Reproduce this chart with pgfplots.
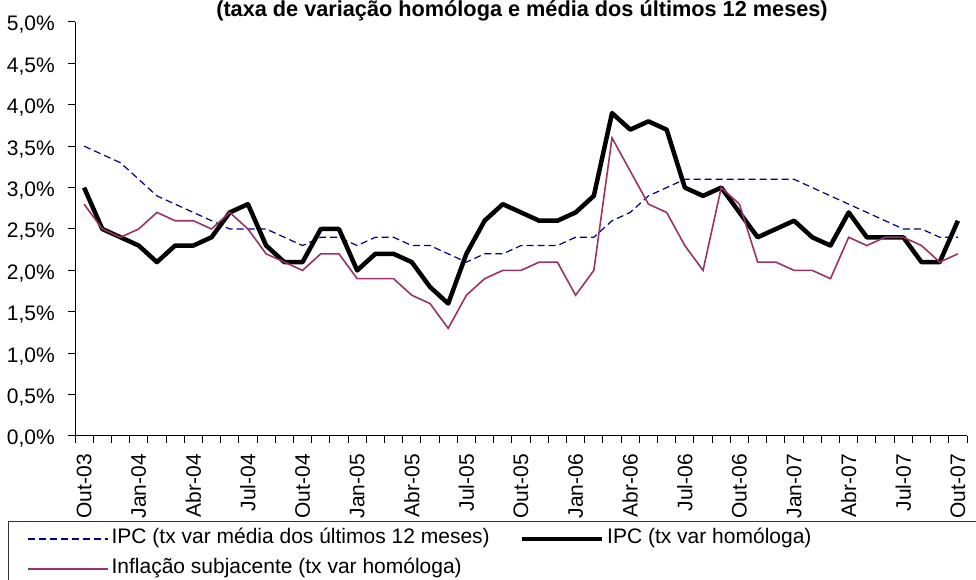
\documentclass[border=0pt]{standalone}
\usepackage{fontspec}
\setmainfont{Liberation Sans}
\usepackage{pgfplots}
\pgfplotsset{compat=1.18}
\definecolor{navyblue}{RGB}{0,0,128}
\definecolor{plum}{RGB}{153,51,102}
\begin{document}
\begin{tikzpicture}
\useasboundingbox (0pt,0pt) rectangle (976pt,580pt);
\begin{axis}[
  at={(75pt,144pt)}, anchor=south west,
  scale only axis, width=892pt, height=414pt,
  xmin=-0.5, xmax=48.5, ymin=0, ymax=5,
  axis x line*=bottom, axis y line*=left,
  axis line style={-, line width=1pt, black},
  tick align=outside,
  major tick length=7pt,
  every tick/.style={black, line width=1pt},
  xtick={-0.5,0.5,...,48.5},
  xticklabels={},
  extra x ticks={0,3,...,48},
  extra x tick labels={Out-03,Jan-04,Abr-04,Jul-04,Out-04,Jan-05,Abr-05,Jul-05,Out-05,Jan-06,Abr-06,Jul-06,Out-06,Jan-07,Abr-07,Jul-07,Out-07},
  extra x tick style={major tick length=0pt},
  ytick={0,0.5,...,5},
  yticklabels={{0,0\%},{0,5\%},{1,0\%},{1,5\%},{2,0\%},{2,5\%},{3,0\%},{3,5\%},{4,0\%},{4,5\%},{5,0\%}},
  ticklabel style={font=\fontsize{21}{21}\selectfont},
  yticklabel style={anchor=east, inner sep=0pt, xshift=-13pt, yshift=-3pt},
  xticklabel style={yshift=-18pt, rotate=90, anchor=east, inner sep=0pt},
  no markers,
  clip=false,
  legend columns=2,
  legend style={at={(axis description cs:-0.05381,-0.22464)}, anchor=north west,
    draw=none, fill=none, inner sep=0pt, outer sep=0pt, cells={anchor=west},
    nodes={inner sep=0pt, font=\fontsize{21}{21}\selectfont, text height=15pt, text depth=5pt},
    row sep=10pt,
    /tikz/every odd column/.append style={column sep=3pt},
    /tikz/every even column/.append style={column sep=30pt}},
  legend image code/.code={\draw[#1] (0pt,0pt) -- (80pt,0pt);},
]
\addplot[navyblue, line width=1.2pt, dash pattern=on 7pt off 4pt] coordinates {
(0,3.5)(1,3.4)(2,3.3)(3,3.1)(4,2.9)(5,2.8)(6,2.7)(7,2.6)(8,2.5)(9,2.5)
(10,2.5)(11,2.4)(12,2.3)(13,2.4)(14,2.4)(15,2.3)(16,2.4)(17,2.4)(18,2.3)(19,2.3)
(20,2.2)(21,2.1)(22,2.2)(23,2.2)(24,2.3)(25,2.3)(26,2.3)(27,2.4)(28,2.4)(29,2.6)
(30,2.7)(31,2.9)(32,3.0)(33,3.1)(34,3.1)(35,3.1)(36,3.1)(37,3.1)(38,3.1)(39,3.1)
(40,3.0)(41,2.9)(42,2.8)(43,2.7)(44,2.6)(45,2.5)(46,2.5)(47,2.4)(48,2.4)};
\addlegendentry{IPC (tx var média dos últimos 12 meses)}
\addplot[black, line width=4.5pt, line join=round] coordinates {
(0,3.0)(1,2.5)(2,2.4)(3,2.3)(4,2.1)(5,2.3)(6,2.3)(7,2.4)(8,2.7)(9,2.8)
(10,2.3)(11,2.1)(12,2.1)(13,2.5)(14,2.5)(15,2.0)(16,2.2)(17,2.2)(18,2.1)(19,1.8)
(20,1.6)(21,2.2)(22,2.6)(23,2.8)(24,2.7)(25,2.6)(26,2.6)(27,2.7)(28,2.9)(29,3.9)
(30,3.7)(31,3.8)(32,3.7)(33,3.0)(34,2.9)(35,3.0)(36,2.7)(37,2.4)(38,2.5)(39,2.6)
(40,2.4)(41,2.3)(42,2.7)(43,2.4)(44,2.4)(45,2.4)(46,2.1)(47,2.1)(48,2.6)};
\addlegendentry{IPC (tx var homóloga)}
\addplot[plum, line width=1.6pt] coordinates {
(0,2.8)(1,2.5)(2,2.4)(3,2.5)(4,2.7)(5,2.6)(6,2.6)(7,2.5)(8,2.7)(9,2.5)
(10,2.2)(11,2.1)(12,2.0)(13,2.2)(14,2.2)(15,1.9)(16,1.9)(17,1.9)(18,1.7)(19,1.6)
(20,1.3)(21,1.7)(22,1.9)(23,2.0)(24,2.0)(25,2.1)(26,2.1)(27,1.7)(28,2.0)(29,3.6)
(30,3.2)(31,2.8)(32,2.7)(33,2.3)(34,2.0)(35,3.0)(36,2.8)(37,2.1)(38,2.1)(39,2.0)
(40,2.0)(41,1.9)(42,2.4)(43,2.3)(44,2.4)(45,2.4)(46,2.3)(47,2.1)(48,2.2)};
\addlegendentry{Inflação subjacente (tx var homóloga)}
\end{axis}
\node[anchor=base, font=\bfseries\fontsize{21.7}{21.7}\selectfont] at (522pt,563pt) {(taxa de variação homóloga e média dos últimos 12 meses)};
\draw[black!80, line width=1pt] (8pt,-30pt) rectangle (1010pt,58pt);
\end{tikzpicture}
\end{document}
